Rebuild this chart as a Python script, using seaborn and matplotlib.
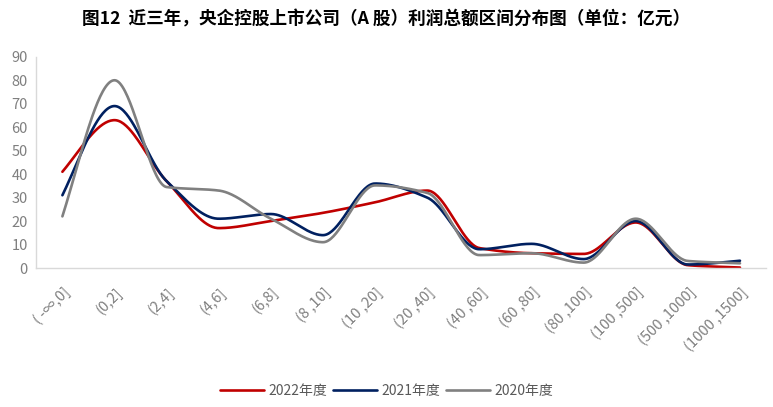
import numpy as np
import pandas as pd
import matplotlib
matplotlib.use("Agg")
import matplotlib.pyplot as plt
import seaborn as sns

categories = ["( -∞,0]", "(0,2]", "(2,4]", "(4,6]", "(6,8]", "(8 ,10]", "(10 ,20]",
              "(20 ,40]", "(40 ,60]", "(60 ,80]", "(80 ,100]", "(100 ,500]",
              "(500 ,1000]", "(1000 ,1500]"]
v2022 = [41, 63, 37, 17, 20, 23.5, 28, 33, 8.5, 6.3, 6, 19.4, 1.2, 0.2]
v2021 = [31, 69, 37, 21, 23, 14, 36, 30, 8, 10.3, 3.8, 20, 1.5, 3.1]
v2020 = [22, 80, 34.5, 33, 21, 11, 35.2, 32, 5.5, 6.3, 2.3, 21, 3, 2]
series_names = ["2022年度", "2021年度", "2020年度"]
colors = ["#C00000", "#002060", "#808080"]

sns.set_theme(style="white")
plt.rcParams['font.family'] = ['Noto Sans CJK SC', 'DejaVu Sans']


def smooth(y, n=40):
    """Smoothed display curve (monotone Hermite tangents, like the chart's smoothed lines)."""
    y = np.asarray(y, float)
    k = len(y)
    d = np.diff(y)
    m = np.zeros(k)
    for i in range(1, k - 1):
        if d[i - 1] * d[i] > 0:
            m[i] = 2.0 / (1.0 / d[i - 1] + 1.0 / d[i])
        else:
            m[i] = 0.0
    m[0] = d[0] * 1.2
    m[-1] = d[-1] * 1.2
    t = np.linspace(0, 1, n, endpoint=False)
    h00 = 2 * t**3 - 3 * t**2 + 1
    h10 = t**3 - 2 * t**2 + t
    h01 = -2 * t**3 + 3 * t**2
    h11 = t**3 - t**2
    xs, ys = [], []
    for i in range(k - 1):
        xs.append(i + t)
        ys.append(h00 * y[i] + h10 * m[i] + h01 * y[i + 1] + h11 * m[i + 1])
    xs.append([k - 1]); ys.append([y[-1]])
    return np.concatenate(xs), np.concatenate(ys)


frames = []
for name, vals in zip(series_names, [v2022, v2021, v2020]):
    sx, sy = smooth(vals)
    frames.append(pd.DataFrame({"x": sx, "y": sy, "series": name}))
df = pd.concat(frames, ignore_index=True)

fig = plt.figure(figsize=(7.73, 4.07), dpi=100)
ax = fig.add_axes([0.047, 0.3415, 0.944, 0.519])
sns.lineplot(data=df, x="x", y="y", hue="series", palette=colors, sort=False,
             estimator=None, linewidth=1.9, ax=ax, legend=True)

ax.set_xlim(-0.5, len(categories) - 0.5)
ax.set_ylim(0, 90)
ax.set_yticks(range(0, 91, 10))
ax.set_xticks(range(len(categories)))
ax.set_xticklabels(categories, rotation=45, ha="right", rotation_mode="anchor",
                   fontsize=10.5, color="#7F7F7F")
ax.tick_params(axis="y", labelsize=10.5, labelcolor="#7F7F7F", length=0, pad=6)
ax.tick_params(axis="x", length=0, pad=12)
ax.set_xlabel("")
ax.set_ylabel("")
for s in ["top", "right"]:
    ax.spines[s].set_visible(False)
for s in ["left", "bottom"]:
    ax.spines[s].set_color("#D9D9D9")
    ax.spines[s].set_linewidth(1)

handles, labels = ax.get_legend_handles_labels()
ax.legend(handles, labels, loc="center", frameon=False,
          ncol=3, fontsize=10, labelcolor="#595959", handlelength=3.2,
          columnspacing=0.4, handletextpad=0.3)
leg = ax.get_legend()
leg.set_bbox_to_anchor((0.5, 0.04), transform=fig.transFigure)

fig.text(0.5, 0.952, "图12  近三年，央企控股上市公司（A 股）利润总额区间分布图（单位：亿元）",
         ha="center", va="center", fontsize=12.7, fontweight="bold", color="#000000")

fig.savefig("out.png", dpi=100)
